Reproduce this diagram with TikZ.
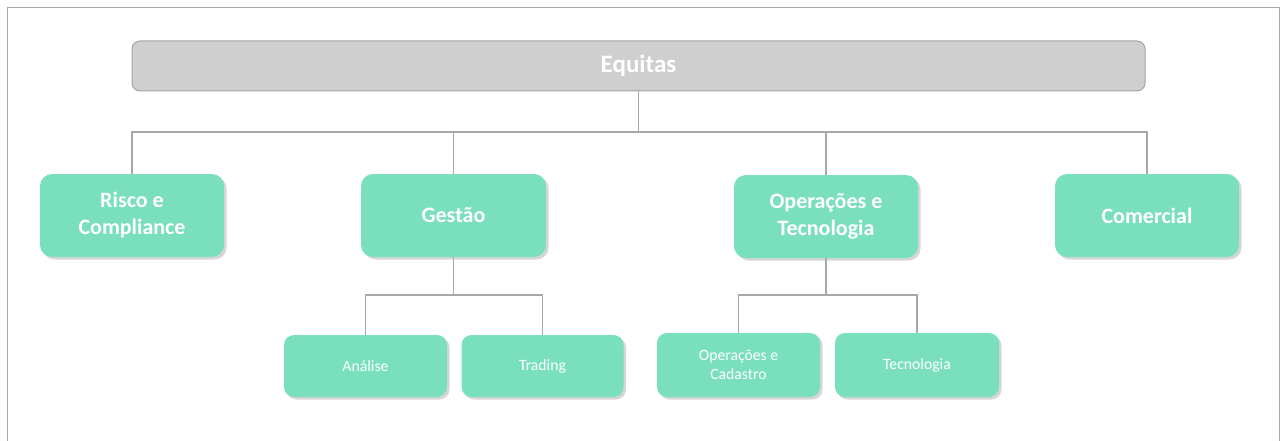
\documentclass[tikz,border=0pt]{standalone}
\usepackage{fontspec}
\setmainfont{Carlito}
\usetikzlibrary{shadows}
\definecolor{boxgreen}{HTML}{7ADFBD}
\definecolor{topgray}{HTML}{D0CFD0}
\definecolor{topedge}{HTML}{A3A3A3}
\definecolor{linegray}{HTML}{A8A8A8}
\begin{document}
\begin{tikzpicture}[x=1pt,y=-1pt,
  topbox/.style={draw=topedge,line width=1pt,fill=topgray,rounded corners=8pt,
    minimum width=1013pt,minimum height=50pt,text=white,
    font=\fontsize{25}{29}\selectfont\bfseries,inner sep=0pt},
  lvlone/.style={fill=boxgreen,rounded corners=12pt,minimum width=184pt,minimum height=83pt,
    text=white,align=center,inner sep=0pt,
    font=\fontsize{22}{27}\selectfont\bfseries,
    drop shadow={shadow xshift=2.5pt,shadow yshift=-2.5pt,fill=black!40,opacity=0.4}},
  lvltwo/.style={fill=boxgreen,rounded corners=10pt,minimum width=163pt,minimum height=62pt,
    text=white,align=center,inner sep=0pt,
    font=\fontsize{15.7}{18.5}\selectfont,
    drop shadow={shadow xshift=2.5pt,shadow yshift=-2.5pt,fill=black!40,opacity=0.4}},
  conn/.style={draw=linegray,line width=1.2pt},
  frame/.style={draw=linegray,line width=1pt}]
\useasboundingbox (0,0) rectangle (1287,441);
\draw[frame] (7.5,441) -- (7.5,7.5) -- (1279.5,7.5) -- (1279.5,441);

\node[topbox] (eq) at (638.5,66) {Equitas};

\node[lvlone] (risco) at (132,215.5) {Risco e\\Compliance};
\node[lvlone,minimum width=185pt] (gestao) at (453.5,215.5) {Gestão};
\node[lvlone] (optec) at (826,216.5) {Operações e\\Tecnologia};
\node[lvlone] (comercial) at (1147,215.5) {Comercial};

\node[lvltwo] (analise) at (365.5,366) {Análise};
\node[lvltwo,minimum width=162pt] (trading) at (542.5,366) {Trading};
\node[lvltwo,minimum height=64pt] (opcad) at (738.5,365) {Operações e\\Cadastro};
\node[lvltwo,minimum width=164pt,minimum height=64pt] (tecn) at (917,365) {Tecnologia};

\coordinate (busA) at (0,132);
\coordinate (busB) at (0,295);

\draw[conn] (eq.south) -- (eq.south |- busA);
\draw[conn] (risco.north) -- (risco.north |- busA) -- (comercial.north |- busA) -- (comercial.north);
\draw[conn] (gestao.north) -- (gestao.north |- busA);
\draw[conn] (optec.north) -- (optec.north |- busA);

\draw[conn] (gestao.south) -- (gestao.south |- busB);
\draw[conn] (analise.north) -- (analise.north |- busB) -- (trading.north |- busB) -- (trading.north);

\draw[conn] (optec.south) -- (optec.south |- busB);
\draw[conn] (opcad.north) -- (opcad.north |- busB) -- (tecn.north |- busB) -- (tecn.north);
\end{tikzpicture}
\end{document}
